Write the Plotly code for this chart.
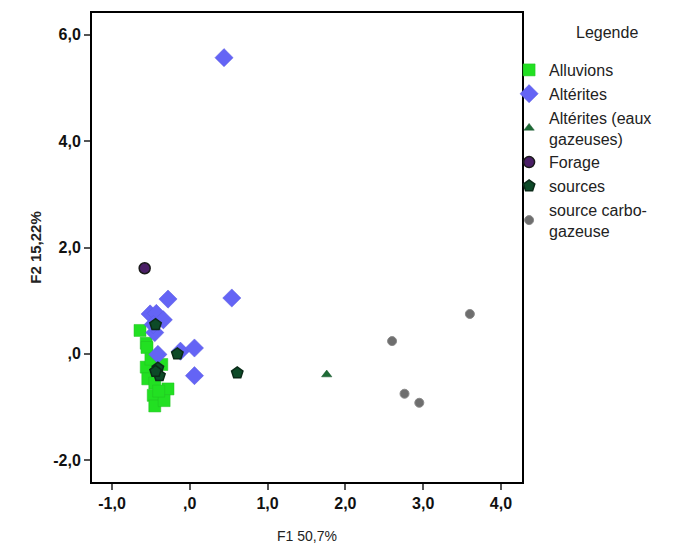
import plotly.graph_objects as go

# Data
alluvions_x = [-0.64, -0.56, -0.55, -0.56, -0.54, -0.50, -0.47, -0.28, -0.45, -0.33, -0.45, -0.36, -0.40]
alluvions_y = [0.44, 0.20, 0.12, -0.25, -0.47, -0.10, -0.78, -0.66, -0.98, -0.88, -0.55, -0.20, -0.70]

alterites_x = [0.44, 0.54, -0.28, -0.51, -0.43, -0.34, -0.45, -0.41, -0.12, 0.06, 0.06, -0.47]
alterites_y = [5.57, 1.05, 1.03, 0.75, 0.76, 0.64, 0.40, -0.01, 0.05, 0.11, -0.41, 0.55]

gaz_x = [1.76]
gaz_y = [-0.39]

forage_x = [-0.58]
forage_y = [1.61]

sources_x = [-0.44, -0.16, -0.41, -0.39, 0.61, -0.44]
sources_y = [0.55, 0.00, -0.27, -0.41, -0.36, -0.33]

carbo_x = [2.60, 3.60, 2.76, 2.95]
carbo_y = [0.24, 0.75, -0.75, -0.92]

x_ticks = [-1, 0, 1, 2, 3, 4]
x_ticklabels = ["-1,0", ",0", "1,0", "2,0", "3,0", "4,0"]
y_ticks = [-2, 0, 2, 4, 6]
y_ticklabels = ["-2,0", ",0", "2,0", "4,0", "6,0"]

FONT = "Liberation Sans, Arial, sans-serif"

# page has an 8px body margin; figure is sized to fit the 685x557 window
W, H = 677, 549
L, T = 84, 5
PW, PH = 430, 469
R = W - L - PW
B = H - T - PH

fig = go.Figure()
fig.add_trace(go.Scatter(x=alluvions_x, y=alluvions_y, mode="markers", name="Alluvions",
                         marker=dict(symbol="square", size=12, color="#22e022",
                                     line=dict(color="#22c022", width=0.5))))
fig.add_trace(go.Scatter(x=alterites_x, y=alterites_y, mode="markers", name="Altérites",
                         marker=dict(symbol="diamond", size=14, color="#6464f5",
                                     line=dict(color="#5a5ae0", width=0.5))))
fig.add_trace(go.Scatter(x=gaz_x, y=gaz_y, mode="markers", name="Altérites (eaux<br>gazeuses)",
                         marker=dict(symbol="triangle-up", size=9, color="#1d6b35",
                                     line=dict(color="#14502a", width=0.5))))
fig.add_trace(go.Scatter(x=forage_x, y=forage_y, mode="markers", name="Forage",
                         marker=dict(symbol="circle", size=11, color="#4a1f66",
                                     line=dict(color="#1a1a1a", width=1.5))))
fig.add_trace(go.Scatter(x=sources_x, y=sources_y, mode="markers", name="sources",
                         marker=dict(symbol="pentagon", size=12, color="#0d4a28",
                                     line=dict(color="#0a2a18", width=1.5))))
fig.add_trace(go.Scatter(x=carbo_x, y=carbo_y, mode="markers", name="source carbo-<br>gazeuse",
                         marker=dict(symbol="circle", size=9, color="#6e6e6e",
                                     line=dict(color="#8a8a8a", width=1))))

axis_common = dict(showline=True, linecolor="black", linewidth=2, mirror=True,
                   ticks="outside", ticklen=6, tickwidth=1.5, tickcolor="#555555",
                   showgrid=False, zeroline=False, automargin=False,
                   tickfont=dict(family=FONT, size=16, color="#111111", weight="bold"))

fig.update_layout(
    width=W, height=H,
    margin=dict(l=L, r=R, t=T, b=B),
    paper_bgcolor="white", plot_bgcolor="white",
    font=dict(family=FONT, color="#222222"),
    xaxis=dict(range=[-1.257, 4.27], tickvals=x_ticks, ticktext=x_ticklabels,
               title=dict(text="F1 50,7%", font=dict(family=FONT, size=14, color="#222222"), standoff=20),
               **axis_common),
    yaxis=dict(range=[-2.41, 6.41], tickvals=y_ticks, ticktext=y_ticklabels,
               title=dict(text="F2 15,22%", font=dict(family=FONT, size=15, color="#222222", weight="bold"), standoff=8),
               **axis_common),
    legend=dict(x=0.97, y=(482 - 8 - 45) / PH, xanchor="left", yanchor="top",
                font=dict(family=FONT, size=16, color="#222222"),
                bgcolor="rgba(0,0,0,0)", itemwidth=30, tracegroupgap=0),
    showlegend=True,
    annotations=[dict(text="Legende", x=(607 - 8 - L) / PW, xref="paper",
                      y=(T + PH - (33 - 8)) / PH, yref="paper",
                      xanchor="center", yanchor="middle",
                      showarrow=False, font=dict(family=FONT, size=16, color="#222222"))],
)

fig.write_html("out.html")
